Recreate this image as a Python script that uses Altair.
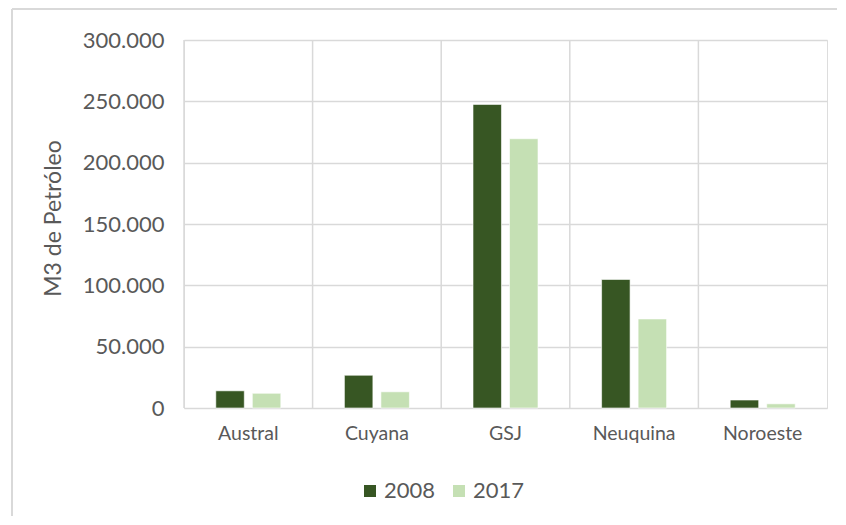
import altair as alt
import pandas as pd

regions = ["Austral", "Cuyana", "GSJ", "Neuquina", "Noroeste"]
years = ["2008", "2017"]
v2008 = [14000, 26700, 247500, 104800, 6500]
v2017 = [12000, 13200, 219500, 72600, 3400]
y_ticks = [0, 50000, 100000, 150000, 200000, 250000, 300000]

rows = []
for r, a, b in zip(regions, v2008, v2017):
    rows.append({"cuenca": r, "anio": years[0], "m3": a})
    rows.append({"cuenca": r, "anio": years[1], "m3": b})
df = pd.DataFrame(rows)
cats = pd.DataFrame({"cuenca": regions})

FONT = "Lato"
TXT = "#595959"
GRID = "#d9d9d9"
colors = ["#375623", "#C5E0B4"]

W, H = 643, 368
PL, PT = 176, 32

bars = alt.Chart(df).mark_bar(stroke="white", strokeWidth=0.6).encode(
    x=alt.X("cuenca:N", sort=regions,
            scale=alt.Scale(domain=regions, paddingInner=0.4946, paddingOuter=0.2473),
            axis=alt.Axis(title=None, labelAngle=0, labelFont=FONT, labelFontSize=19.5,
                          labelColor=TXT, labelPadding=16, ticks=False, domain=False,
                          grid=False)),
    xOffset=alt.XOffset("anio:N", scale=alt.Scale(domain=years, paddingInner=0.22, paddingOuter=0)),
    y=alt.Y("m3:Q", scale=alt.Scale(domain=[0, 300000], nice=False),
            axis=alt.Axis(title="M3 de Petróleo", values=y_ticks,
                          labelExpr="replace(format(datum.value, ','), /,/g, '.')",
                          labelFont=FONT, labelFontSize=22, labelColor=TXT, labelPadding=20,
                          ticks=False, domain=False, grid=True, gridColor=GRID, gridWidth=1.5,
                          titleFont=FONT, titleFontSize=23, titleFontWeight="normal",
                          titleColor=TXT, titlePadding=17, titleY=178)),
    color=alt.Color("anio:N", scale=alt.Scale(domain=years, range=colors),
                    legend=alt.Legend(title=None, orient="none", direction="horizontal",
                                      legendX=175, legendY=440, symbolType="square",
                                      symbolSize=144, symbolStrokeWidth=0,
                                      labelFont=FONT, labelFontSize=22, labelColor=TXT,
                                      labelOffset=3, columnPadding=12)),
)

vgrid = alt.Chart(cats).mark_rule(color=GRID, strokeWidth=1.5).encode(
    x=alt.X("cuenca:N", sort=regions, bandPosition=0,
            scale=alt.Scale(domain=regions, paddingInner=0, paddingOuter=0), axis=None),
)

border_top = alt.Chart(cats).mark_rule(color=GRID, strokeWidth=2).encode(
    x=alt.value(12 - 184), x2=alt.value(846 - 184), y=alt.value(9 - 40)
)
border_left = alt.Chart(cats).mark_rule(color=GRID, strokeWidth=2).encode(
    x=alt.value(12 - 184), y=alt.value(9 - 40), y2=alt.value(525 - 40)
)

chart = alt.layer(border_top, border_left, vgrid, bars).resolve_scale(x="independent").properties(
    width=W, height=H,
    autosize=alt.AutoSizeParams(type="none"),
    padding={"left": PL, "top": PT, "right": 10, "bottom": 108},
).configure_view(stroke=GRID, strokeWidth=1.5).configure(background="white")

chart.save("out.html", embed_options={"renderer": "svg", "actions": False})
